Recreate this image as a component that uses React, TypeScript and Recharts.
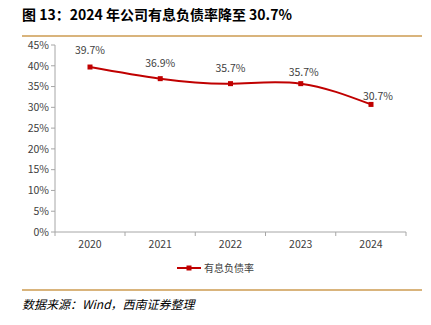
import React from 'react';
import { LineChart, Line, XAxis, YAxis, LabelList } from 'recharts';

const years = ['2020', '2021', '2022', '2023', '2024'];
const debtRatio = [39.7, 36.9, 35.7, 35.7, 30.7];
const yTicks = [0, 5, 10, 15, 20, 25, 30, 35, 40, 45];

const data = years.map((year, i) => ({ year, ratio: debtRatio[i] }));

const RED = '#c00000';
const AXIS = '#a6a6a6';
const TEXT = '#404040';
const RULE = '#d9b47c';
const FONT = '"Noto Sans CJK SC", "Liberation Sans", sans-serif';

// Excel-like label nudges (dx, dy above point)
const labelNudge = [
  [0, -16],
  [0, -15],
  [0, -14],
  [3, -10],
  [7, -7],
];

const SquareDot = (props: any) => {
  const { cx, cy } = props;
  if (cx == null || cy == null) return null;
  return <rect x={cx - 2.5} y={cy - 2.5} width={5} height={5} fill={RED} />;
};

const XTick = (props: any) => {
  const { x, y, payload, index } = props;
  const band = 70;
  return (
    <g>
      {index === 0 && <line x1={x - band / 2} y1={y - 8} x2={x - band / 2} y2={y - 4} stroke={AXIS} />}
      <line x1={x + band / 2} y1={y - 8} x2={x + band / 2} y2={y - 4} stroke={AXIS} />
      <text x={x} y={y + 8} textAnchor="middle" fontSize={10.5} fill={TEXT} fontFamily={FONT}>
        {payload.value}
      </text>
    </g>
  );
};

const PointLabel = (props: any) => {
  const { x, y, value, index } = props;
  const [dx, dy] = labelNudge[index] || [0, -12];
  return (
    <text x={x + dx} y={y + dy} textAnchor="middle" dominantBaseline="middle" fontSize={10.5} fill={TEXT} fontFamily={FONT}>
      {value.toFixed(1)}%
    </text>
  );
};

export default function App() {
  return (
    <div style={{ position: 'absolute', left: 0, top: 0, width: 431, height: 325, background: '#fff', fontFamily: FONT }}>
      <div style={{ position: 'absolute', left: 22, top: 4, fontSize: 14, fontWeight: 700, color: '#000', whiteSpace: 'nowrap' }}>
        图 13：2024 年公司有息负债率降至 30.7%
      </div>
      <div style={{ position: 'absolute', left: 22, top: 35, width: 400, height: 2, background: RULE }} />
      <div style={{ position: 'absolute', left: 0, top: 0 }}>
        <LineChart width={431} height={285} data={data} margin={{ top: 45, right: 25, bottom: 0, left: 0 }}>
          <XAxis
            dataKey="year"
            axisLine={{ stroke: AXIS }}
            tickLine={false}
            tick={<XTick />}
            height={53}
            interval={0}
            padding={{ left: 35, right: 35 }}
          />
          <YAxis
            domain={[0, 45]}
            ticks={yTicks}
            width={55}
            axisLine={{ stroke: AXIS }}
            tickLine={{ stroke: AXIS }}
            tickSize={4}
            tickFormatter={(v: number) => `${v}%`}
            tick={{ fontSize: 10.5, fill: TEXT, fontFamily: FONT }}
            interval={0}
          />
          <Line
            type="natural"
            dataKey="ratio"
            stroke={RED}
            strokeWidth={2}
            dot={<SquareDot />}
            activeDot={false}
            isAnimationActive={false}
          >
            <LabelList dataKey="ratio" content={<PointLabel />} />
          </Line>
        </LineChart>
      </div>
      <div style={{ position: 'absolute', left: 0, top: 260, width: 431, display: 'flex', justifyContent: 'center', alignItems: 'center', fontSize: 10, color: TEXT }}>
        <svg width={24} height={8} style={{ marginRight: 3 }}>
          <line x1={0} y1={4} x2={24} y2={4} stroke={RED} strokeWidth={2} />
          <rect x={9.5} y={1.5} width={5} height={5} fill={RED} />
        </svg>
        <span>有息负债率</span>
      </div>
      <div style={{ position: 'absolute', left: 22, top: 289, width: 400, height: 2, background: RULE }} />
      <div style={{ position: 'absolute', left: 22, top: 295, fontSize: 12, fontStyle: 'italic', color: '#000', whiteSpace: 'nowrap' }}>
        数据来源：Wind，西南证券整理
      </div>
    </div>
  );
}
